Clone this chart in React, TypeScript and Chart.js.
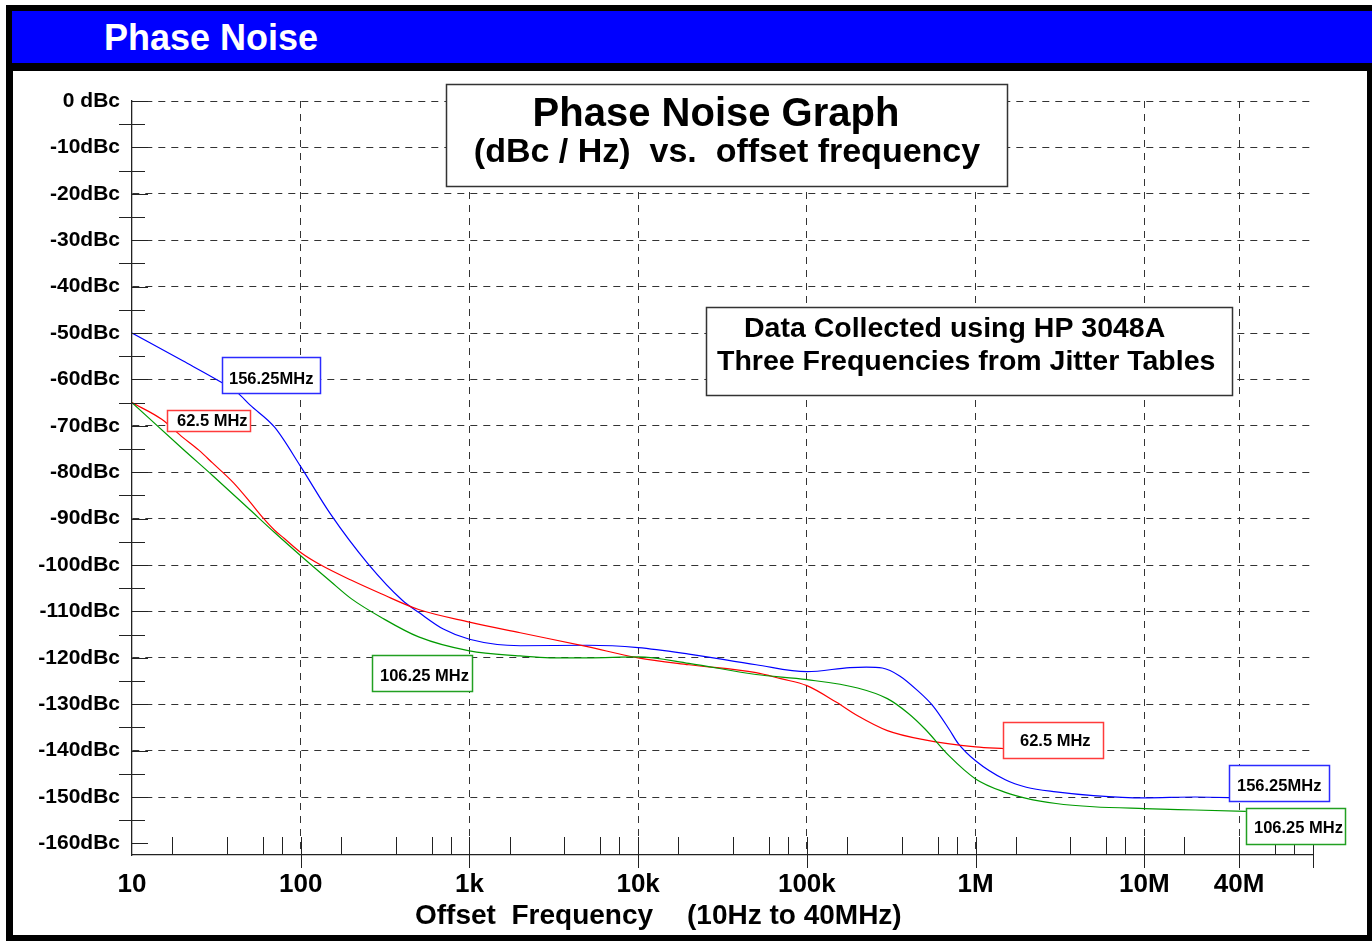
import React, { useEffect, useRef } from 'react';
import { Chart, registerables } from 'chart.js';

Chart.register(...registerables);

const FONT = '"Liberation Sans", Arial, Helvetica, sans-serif';

// ---------- Axis data ----------
const yMajorValues = [0, -10, -20, -30, -40, -50, -60, -70, -80, -90, -100, -110, -120, -130, -140, -150, -160];
const yMajorLabels = ['0 dBc', '-10dBc', '-20dBc', '-30dBc', '-40dBc', '-50dBc', '-60dBc', '-70dBc', '-80dBc', '-90dBc', '-100dBc', '-110dBc', '-120dBc', '-130dBc', '-140dBc', '-150dBc', '-160dBc'];
const yMinorValues = [-5, -15, -25, -35, -45, -55, -65, -75, -85, -95, -105, -115, -125, -135, -145, -155];
const yMin = -162.5;
const yMax = 0;

const xMajorValues = [10, 100, 1e3, 1e4, 1e5, 1e6, 1e7, 3.65e7];
const xMajorLabels = ['10', '100', '1k', '10k', '100k', '1M', '10M', '40M'];
const xDecadeStarts = [10, 100, 1e3, 1e4, 1e5, 1e6, 1e7];
const xMinorFactors = [1.73, 3.65, 5.96, 7.73];
const xMin = 10;
const xMax = 1e8;

// ---------- Series data (offset frequency Hz, dBc/Hz) ----------
const blueName = '156.25MHz';
const blueFreq = [10, 20, 33, 42, 50, 70, 100, 150, 250, 400, 500, 700, 1000, 2000, 5000, 10000, 20000, 50000, 100000, 180000, 225000, 280000, 355000, 445000, 560000, 700000, 790000, 1000000, 1500000, 2000000, 3000000, 5000000, 10000000, 20000000, 40000000];
const blueDb = [-50, -56, -60.4, -62.8, -65.5, -70.3, -78.8, -89, -99.7, -107.6, -110.2, -113.8, -116, -117.4, -117.3, -117.8, -119.2, -121.5, -123, -122.1, -122, -122.2, -123.9, -126.8, -130.4, -135.5, -138.5, -142.2, -146.3, -147.9, -148.9, -149.7, -150.2, -150, -150.2];

const redName = '62.5 MHz';
const redFreq = [10, 15, 20, 25, 30, 40, 50, 60, 70, 80, 100, 130, 200, 300, 500, 1000, 2000, 5000, 10000, 20000, 50000, 70000, 100000, 150000, 200000, 300000, 500000, 1000000, 1500000];
const redDb = [-65, -68.6, -72.5, -75.3, -78, -82.3, -86.4, -89.9, -92.5, -94.3, -97.3, -99.9, -103.3, -106.2, -109.6, -112.3, -114.6, -117.6, -120, -121.5, -123.2, -124.5, -126, -129.6, -132.5, -135.7, -137.7, -139.2, -139.6];

const greenName = '106.25 MHz';
const greenFreq = [10, 20, 30, 50, 70, 100, 150, 200, 300, 500, 1000, 2000, 3000, 5000, 10000, 20000, 50000, 100000, 200000, 300000, 400000, 500000, 700000, 1000000, 1500000, 2000000, 3000000, 5000000, 10000000, 20000000, 40000000];
const greenDb = [-65, -75, -80.7, -88.1, -93, -98, -103.5, -107.3, -111.3, -115.5, -118.5, -119.6, -120, -120, -119.8, -121.2, -123.6, -124.7, -126.5, -128.8, -132, -135.3, -141.2, -146.1, -149, -150.3, -151.4, -152.1, -152.5, -152.8, -153.1];

// ---------- Annotation layout (canvas px) ----------
type Box = { x: number; y: number; w: number; h: number; stroke: string; lw: number };
type Txt = { text: string; size: number; x: number; y: number; align: CanvasTextAlign };

const boxes: Box[] = [
  { x: 433, y: 13, w: 561, h: 102, stroke: '#333333', lw: 1.5 },
  { x: 693, y: 236, w: 526, h: 88, stroke: '#333333', lw: 1.5 },
  { x: 209, y: 286, w: 98, h: 36, stroke: '#2b2bff', lw: 1.5 },
  { x: 154, y: 339, w: 83, h: 21, stroke: '#ff3b3b', lw: 1.5 },
  { x: 359, y: 584, w: 100, h: 36, stroke: '#22a022', lw: 1.5 },
  { x: 990, y: 651, w: 100, h: 36, stroke: '#ff3b3b', lw: 1.5 },
  { x: 1216, y: 694, w: 100, h: 36, stroke: '#2b2bff', lw: 1.5 },
  { x: 1233, y: 737, w: 99, h: 36, stroke: '#22a022', lw: 1.5 },
];

const texts: Txt[] = [
  { text: 'Phase Noise Graph', size: 40, x: 703, y: 55, align: 'center' },
  { text: '(dBc / Hz)  vs.  offset frequency', size: 34, x: 714, y: 91, align: 'center' },
  { text: 'Data Collected using HP 3048A', size: 28.5, x: 731, y: 266, align: 'left' },
  { text: 'Three Frequencies from Jitter Tables', size: 28.5, x: 704, y: 299, align: 'left' },
  { text: blueName, size: 16.5, x: 216, y: 313, align: 'left' },
  { text: redName, size: 16.5, x: 164, y: 355, align: 'left' },
  { text: greenName, size: 16.5, x: 367, y: 610, align: 'left' },
  { text: redName, size: 16.5, x: 1007, y: 675, align: 'left' },
  { text: blueName, size: 16.5, x: 1224, y: 720, align: 'left' },
  { text: greenName, size: 16.5, x: 1241, y: 762, align: 'left' },
  { text: 'Offset  Frequency', size: 28, x: 402, y: 853, align: 'left' },
  { text: '(10Hz to 40MHz)', size: 28, x: 674, y: 853, align: 'left' },
];

const findLabel = (vals: number[], labels: string[], v: number) => {
  for (let i = 0; i < vals.length; i++) {
    if (Math.abs(vals[i] - v) <= Math.abs(vals[i]) * 1e-6 + 1e-9) return labels[i];
  }
  return '';
};

const decorPlugin = {
  id: 'decor',
  afterDatasetsDraw(chart: any) {
    const { ctx, chartArea, scales } = chart;
    const xs = scales.x;
    const ys = scales.y;
    const L = chartArea.left;
    const B = chartArea.bottom;
    const al = (p: number) => Math.round(p) + 0.5;
    ctx.save();
    ctx.strokeStyle = '#222222';
    ctx.lineWidth = 1;
    ctx.setLineDash([]);
    ctx.beginPath();
    for (const v of yMinorValues) {
      const p = al(ys.getPixelForValue(v));
      ctx.moveTo(L - 13, p);
      ctx.lineTo(L + 13, p);
    }
    for (const v of yMajorValues) {
      const p = al(ys.getPixelForValue(v));
      ctx.moveTo(L, p);
      ctx.lineTo(L + 16, p);
    }
    for (const d of xDecadeStarts) {
      for (const f of xMinorFactors) {
        const p = al(xs.getPixelForValue(d * f));
        ctx.moveTo(p, B);
        ctx.lineTo(p, B - 18);
      }
    }
    for (const v of [...xMajorValues.slice(1), xMax]) {
      const p = al(xs.getPixelForValue(v));
      ctx.moveTo(p, B - 18);
      ctx.lineTo(p, B + 13);
    }
    ctx.stroke();

    for (const b of boxes) {
      ctx.fillStyle = '#ffffff';
      ctx.fillRect(b.x, b.y, b.w, b.h);
      ctx.strokeStyle = b.stroke;
      ctx.lineWidth = b.lw;
      ctx.strokeRect(b.x + 0.5, b.y + 0.5, b.w, b.h);
    }
    ctx.fillStyle = '#000000';
    ctx.textBaseline = 'alphabetic';
    for (const t of texts) {
      ctx.font = `bold ${t.size}px ${FONT}`;
      ctx.textAlign = t.align;
      ctx.fillText(t.text, t.x, t.y);
    }
    ctx.restore();
  },
};

const mk = (f: number[], d: number[]) => f.map((x, i) => ({ x, y: d[i] }));

export default function App() {
  const ref = useRef<HTMLCanvasElement>(null);

  useEffect(() => {
    const canvas = ref.current;
    if (!canvas) return;
    const line = (label: string, data: any, color: string) => ({
      label,
      data,
      borderColor: color,
      backgroundColor: color,
      borderWidth: 1.2,
      pointRadius: 0,
      fill: false,
      cubicInterpolationMode: 'monotone' as const,
    });
    const chart = new Chart(canvas, {
      type: 'line',
      data: {
        datasets: [
          line(greenName, mk(greenFreq, greenDb), '#009a00'),
          line(redName, mk(redFreq, redDb), '#ff0000'),
          line(blueName, mk(blueFreq, blueDb), '#0000ff'),
        ],
      },
      options: {
        responsive: false,
        animation: false,
        devicePixelRatio: 1,
        layout: { padding: { left: 0, right: 54, top: 30, bottom: 0 } },
        plugins: {
          legend: { display: false },
          tooltip: { enabled: false },
          title: { display: false },
        },
        scales: {
          x: {
            type: 'logarithmic',
            min: xMin,
            max: xMax,
            bounds: 'data',
            afterFit: (s: any) => { s.height = 80; },
            afterBuildTicks: (s: any) => { s.ticks = xMajorValues.map((v) => ({ value: v })); },
            grid: {
              drawTicks: false,
              lineWidth: 1,
              color: (c: any) => (c.tick && c.tick.value > xMin * 1.01 ? '#333333' : 'rgba(0,0,0,0)'),
            },
            border: { display: true, color: '#222222', width: 1.3, dash: [7, 6] },
            ticks: {
              autoSkip: false,
              maxRotation: 0,
              minRotation: 0,
              padding: 14,
              color: '#000000',
              font: { family: FONT, size: 26, weight: 'bold' },
              callback: (v: any) => findLabel(xMajorValues, xMajorLabels, Number(v)),
            },
          },
          y: {
            type: 'linear',
            min: yMin,
            max: yMax,
            bounds: 'data',
            afterFit: (s: any) => { s.width = 119; },
            afterBuildTicks: (s: any) => { s.ticks = yMajorValues.map((v) => ({ value: v })); },
            grid: {
              drawTicks: false,
              lineWidth: 1,
              color: (c: any) => (c.tick && c.tick.value > -160 + 0.01 ? '#333333' : 'rgba(0,0,0,0)'),
            },
            border: { display: true, color: '#222222', width: 1.3, dash: [7, 6] },
            ticks: {
              autoSkip: false,
              padding: 12,
              color: '#000000',
              font: { family: FONT, size: 21, weight: 'bold' },
              callback: (v: any) => findLabel(yMajorValues, yMajorLabels, Number(v)),
            },
          },
        },
      } as any,
      plugins: [decorPlugin],
    });
    return () => chart.destroy();
  }, []);

  return (
    <div style={{ position: 'fixed', left: 0, top: 0, width: 1372, height: 941, background: '#ffffff', overflow: 'hidden' }}>
      <div style={{ position: 'absolute', left: 6, top: 5, width: 1366, height: 936, background: '#000000' }} />
      <div style={{ position: 'absolute', left: 12, top: 11, width: 1360, height: 52, background: '#0000ff' }}>
        <span
          style={{
            position: 'absolute',
            left: 92,
            top: 5.5,
            lineHeight: '52px',
            font: `bold 36px ${FONT}`,
            color: '#ffffff',
            whiteSpace: 'nowrap',
          }}
        >
          Phase Noise
        </span>
      </div>
      <div style={{ position: 'absolute', left: 13, top: 71, width: 1354, height: 864, background: '#ffffff' }}>
        <canvas ref={ref} width={1354} height={864} style={{ display: 'block', width: 1354, height: 864 }} />
      </div>
    </div>
  );
}
